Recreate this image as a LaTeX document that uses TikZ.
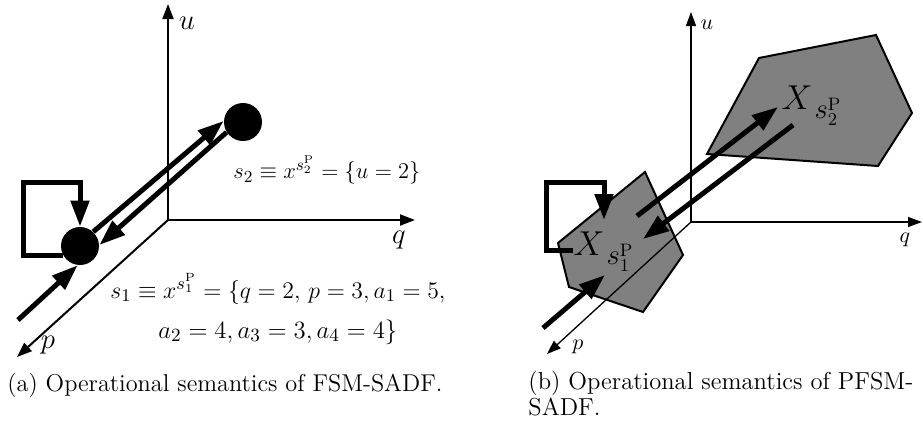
\documentclass[tikz,border=0pt]{standalone}
\usepackage{graphicx}
\usetikzlibrary{arrows.meta}
\begin{document}
\begin{tikzpicture}[x=0.5pt,y=-0.5pt,
  axisA/.style={line width=1pt,-{Triangle[length=7.5pt,width=5.5pt]}},
  axisB/.style={line width=0.65pt,-{Triangle[length=7pt,width=5pt]}},
  trans/.style={line width=2.5pt,-{Triangle[length=13pt,width=9pt]}},
  loopline/.style={line width=2.5pt,miter limit=10,-{Triangle[length=13pt,width=9pt]}},
  state/.style={circle,fill=black,inner sep=0pt,minimum size=19pt},
  axlabel/.style={font=\fontsize{14}{16}\selectfont},
  axlabelB/.style={font=\fontsize{11}{13}\selectfont},
  mathlbl/.style={font=\fontsize{13}{15}\selectfont,inner sep=0pt},
  biglbl/.style={font=\fontsize{19}{21}\selectfont,inner sep=0pt},
  caption/.style={font=\fontsize{12.5}{13}\selectfont,inner sep=0pt,anchor=west,align=left},
  region/.style={draw=black,line width=1pt,fill=black!50,line join=miter}
]
\useasboundingbox (0,0) rectangle (923,429);
% ---------- panel (a) ----------
\coordinate (oA) at (168,220);
\coordinate (uA) at (168,4);
\coordinate (qA) at (415,220);
\coordinate (pA) at (17,357);
\draw[axisA] (oA) -- (uA);
\draw[axisA] (oA) -- (qA);
\draw[axisA] (oA) -- (pA);
\node[axlabel] (uAl) at (187,23) {$u$};
\node[axlabel] (qAl) at (399,240) {$q$};
\node[axlabel] (pAl) at (48,345) {$p$};
\node[state] (s1) at (80,246) {};
\node[state] (s2) at (243,122) {};
\draw[trans] (s1.47) -- (s2.177);
\draw[trans] (s2.212) -- (s1.3);
\coordinate (lpA) at (23,182);
\draw[loopline] (s1.210) -| (lpA) -| (s1.north);
\coordinate (inA) at (18,320);
\draw[trans] (inA) -- (s1.263);
\node[mathlbl,anchor=west] (s2lbl) at (233,170) {\resizebox{93.5pt}{!}{$s_2\equiv x^{s_2^{\mathrm{P}}}=\{u=2\}$}};
\node[mathlbl,anchor=west] (s1lbl) at (110,289) {\resizebox{167.5pt}{!}{$s_1\equiv x^{s_1^{\mathrm{P}}}=\{q=2,\,p=3,a_1=5,$}};
\node[mathlbl,anchor=west] (s1lblb) at (158,332) {\resizebox{119.5pt}{!}{$a_2=4,a_3=3,a_4=4\}$}};
\node[caption] (capA) at (7,385) {\resizebox{217.5pt}{!}{(a) Operational semantics of FSM-SADF.}};
% ---------- panel (b) ----------
\draw[region] (645,172) -- (683,255) -- (643,312) -- (569,287) -- (558,243) -- cycle;
\draw[region] (759,58) -- (876,35) -- (912,113) -- (878,166) -- (707,154) -- cycle;
\coordinate (oB) at (691,222);
\coordinate (uB) at (691,12);
\coordinate (qB) at (922,222);
\coordinate (pB) at (547,354);
\draw[axisB] (oB) -- (uB);
\draw[axisB] (oB) -- (qB);
\draw[axisB] (oB) -- (pB);
\node[axlabelB] (uBl) at (707,25) {$u$};
\node[axlabelB] (qBl) at (905,240) {$q$};
\node[axlabelB] (pBl) at (578,347) {$p$};
\node[biglbl] (X1) at (604,252) {$X_{\,s_1^{\mathrm{P}}}$};
\node[biglbl] (X2) at (812,106) {$X_{\,s_2^{\mathrm{P}}}$};
\coordinate (b1s) at (637,216);
\coordinate (b1e) at (778,107);
\coordinate (b2s) at (793,125);
\coordinate (b2e) at (643,239);
\draw[trans] (b1s) -- (b1e);
\draw[trans] (b2s) -- (b2e);
\coordinate (lbs) at (573,250);
\coordinate (lbc) at (546,182);
\coordinate (lbe) at (604,220);
\draw[loopline] (lbs) -| (lbc) -| (lbe);
\coordinate (ibs) at (543,328);
\coordinate (ibe) at (605,275);
\draw[trans] (ibs) -- (ibe);
\node[caption] (capB) at (528,397) {\resizebox{192.5pt}{!}{\begin{tabular}{@{}l@{}}(b) Operational semantics of PFSM-\\SADF.\end{tabular}}};
\end{tikzpicture}
\end{document}
